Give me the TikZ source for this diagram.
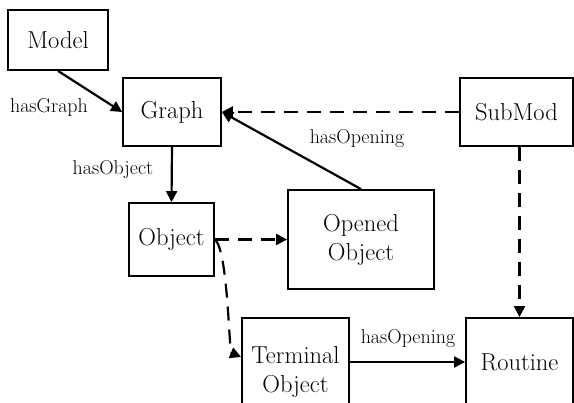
\documentclass[tikz,border=0pt]{standalone}
\usetikzlibrary{arrows.meta,calc}
\tikzset{
  box/.style={draw, line width=1.8pt, align=center, inner sep=0pt, font=\fontsize{24.5}{29}\selectfont},
  lbl/.style={font=\fontsize{20}{23}\selectfont, inner sep=0pt},
  conn/.style={line width=2.2pt, -{Triangle[length=11pt,width=11pt]}},
  dsh/.style={conn, dash pattern=on 14pt off 9pt},
}
\begin{document}
\begin{tikzpicture}[x=1pt,y=-1pt]
\useasboundingbox (0,0) rectangle (574,403);
\clip (0,0) rectangle (574,403);
\node[box, minimum width=100pt, minimum height=60pt] (model) at (58,40) {Model};
\node[box, minimum width=98pt, minimum height=68pt] (graph) at (172,112) {Graph};
\node[box, minimum width=113pt, minimum height=68pt] (submod) at (516.5,112) {SubMod};
\node[box, minimum width=85pt, minimum height=73pt] (object) at (171.5,239.5) {Object};
\node[box, minimum width=146pt, minimum height=99pt] (opened) at (361,239.5) {Opened\\Object};
\node[box, minimum width=107pt, minimum height=108pt] (terminal) at (295.5,372) {Terminal\\Object};
\node[box, minimum width=107pt, minimum height=88pt] (routine) at (519.5,362) {Routine};

\draw[conn] (model.south) -- (graph.west);
\draw[conn] (graph.south) -- (object.north);
\draw[dsh] (submod.west) -- (graph.east);
\draw[conn] (opened.north) -- (graph.east);
\draw[dsh] (object.east) -- (opened.west);
\draw[dsh] (object.east) .. controls (228,250) and (229,352) .. ([yshift=15pt]terminal.west);
\draw[dsh] (submod.south -| routine.north) -- (routine.north);
\draw[conn] (terminal.east |- routine.west) -- (routine.west);

\node[lbl] (l1) at (49,107) {hasGraph};
\node[lbl] (l2) at (113,170) {hasObject};
\node[lbl] (l3) at (357,139) {hasOpening};
\node[lbl] (l4) at (408,339) {hasOpening};
\end{tikzpicture}
\end{document}
